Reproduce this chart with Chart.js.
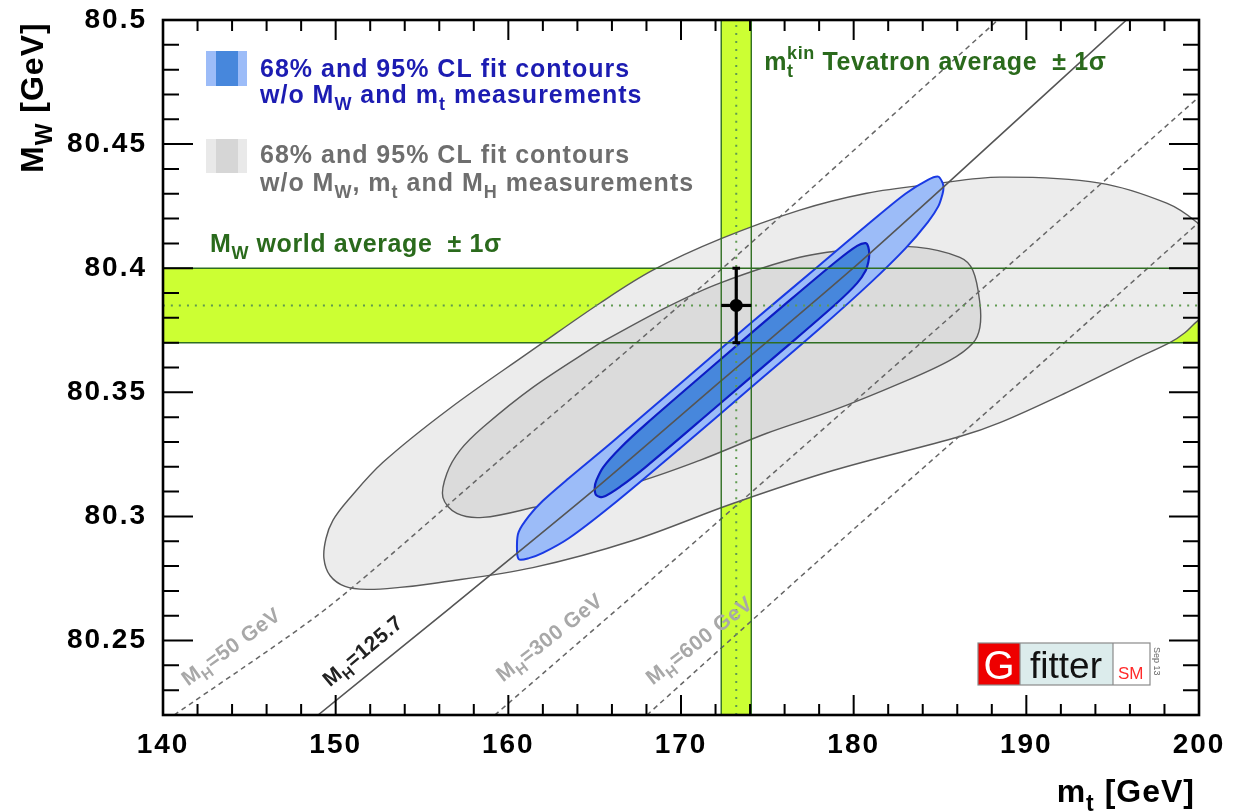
<!DOCTYPE html>
<html><head><meta charset="utf-8">
<script src="https://cdn.jsdelivr.net/npm/chart.js@4.4.1/dist/chart.umd.min.js"></script>
<style>html,body{margin:0;padding:0;background:#fff;}canvas{display:block;}</style>
</head><body>
<canvas id="c" width="1241" height="812"></canvas>
<script>
// ---------------- data ----------------
const xMajorTicks = [140, 150, 160, 170, 180, 190, 200];
const yMajorTicks = [80.25, 80.3, 80.35, 80.4, 80.45, 80.5];

// measurements
const mwAvg = 80.385, mwErr = 0.015;     // M_W world average
const mtAvg = 173.2,  mtErr = 0.87;      // m_t Tevatron average

// grey 95% contour (w/o MW, mt, MH)
const grey95Mt = [161.42,165.30,168.37,172.25,176.88,180.76,184.59,188.47,194.26,198.13,199.87,201.2,201.9,201.3,199.87,199.18,198.31,196.17,192.35,188.47,186.15,178.80,173.00,167.21,161.42,155.63,153.72,151.81,150.54,149.67,149.32,149.44,149.84,150.71,152.74,156.62];
const grey95Mw = [80.3672,80.3859,80.3992,80.4117,80.4234,80.4302,80.4339,80.4367,80.4343,80.4262,80.4185,80.4085,80.3965,80.3855,80.3785,80.3740,80.3700,80.3630,80.3500,80.3378,80.3322,80.3185,80.3052,80.2903,80.2794,80.2730,80.2714,80.2706,80.2718,80.2762,80.2831,80.2911,80.2984,80.3065,80.3218,80.3436];
// grey 68% contour
const grey68Mt = [165.30,169.18,172.25,176.88,180.76,183.66,186.15,186.90,187.31,187.31,186.90,185.57,182.68,178.80,174.97,171.09,167.21,161.42,158.53,157.02,156.21,156.44,157.20,158.53,161.42];
const grey68Mw = [80.3698,80.3843,80.3940,80.4044,80.4081,80.4085,80.4044,80.3992,80.3859,80.3762,80.3698,80.3629,80.3536,80.3427,80.3335,80.3226,80.3133,80.3036,80.2996,80.3012,80.3077,80.3173,80.3266,80.3359,80.3520];
// blue 95% contour (w/o MW and mt)
const blue95Mt = [170,174,178,181,183,184.3,184.9,185.15,185.2,185.15,184.9,184.3,183,181,178,174,170,166,163.5,162.0,161.2,160.6,160.5,160.6,161.2,162.0,163.5,166];
const blue95Mw = [80.3538,80.3776,80.4011,80.4187,80.4300,80.4356,80.4369,80.4344,80.4324,80.4300,80.4249,80.4186,80.4080,80.3943,80.3755,80.3516,80.3278,80.3045,80.2912,80.2853,80.2832,80.2828,80.2883,80.2938,80.3002,80.3063,80.3154,80.3299];
// blue 68% contour
const blue68Mt = [172,176,179,180.2,180.7,180.85,180.9,180.85,180.7,180.2,179,176,172,168,166.5,165.5,165.1,165.0,165.1,165.5,166.5,168];
const blue68Mw = [80.3615,80.3853,80.4028,80.4090,80.4101,80.4085,80.4055,80.4025,80.3991,80.3940,80.3858,80.3677,80.3439,80.3202,80.3121,80.3079,80.3085,80.3115,80.3145,80.3199,80.3277,80.3374];

// SM prediction lines for fixed M_H
const mh50Mt   = [140.65,149.54,159.51,172.08,179.37,188.29];
const mh50Mw   = [80.2200,80.2633,80.3228,80.3980,80.4435,80.4996];
const mh125Mt  = [148.98,156.6,165.1,172.3,179.8,185.4,195.8];
const mh125Mw  = [80.2200,80.2630,80.3115,80.3545,80.3990,80.4340,80.5000];
const mh300Mt  = [159.22,171.09,188.47,200.0];
const mh300Mw  = [80.2200,80.2915,80.3980,80.4690];
const mh600Mt  = [168.03,179.20,188.47,200.0];
const mh600Mw  = [80.2200,80.2899,80.3468,80.4185];

// ---------------- helpers ----------------
const FONT = '"Liberation Sans", Arial, Helvetica, sans-serif';
const LIME = '#ccff33';
const pts = (xs, ys) => xs.map((x, i) => ({x: x, y: ys[i]}));
const closed = (xs, ys) => { const p = pts(xs, ys); p.push(p[0]); return p; };

function shape(data, fillC, lineC, lw, order, tension) {
  return {data, showLine: true, fill: 'shape', backgroundColor: fillC, borderColor: lineC,
    borderWidth: lw, pointRadius: 0, tension: tension, order, clip: 0};
}
function lineDs(data, color, lw, dash, order) {
  return {data, showLine: true, fill: false, borderColor: color, borderWidth: lw,
    borderDash: dash || [], pointRadius: 0, tension: 0.25, order, clip: 0, borderCapStyle: 'butt'};
}

const xMin = 140, xMax = 200, yMin = 80.22, yMax = 80.5;
const hBand = [{x:xMin,y:mwAvg-mwErr},{x:xMax,y:mwAvg-mwErr},{x:xMax,y:mwAvg+mwErr},{x:xMin,y:mwAvg+mwErr},{x:xMin,y:mwAvg-mwErr}];
const vBand = [{x:mtAvg-mtErr,y:yMin},{x:mtAvg+mtErr,y:yMin},{x:mtAvg+mtErr,y:yMax},{x:mtAvg-mtErr,y:yMax},{x:mtAvg-mtErr,y:yMin}];

const GREEN = '#2f6e22', GREEN_DOT = '#5f9a50';

const datasets = [
  shape(hBand, LIME, 'rgba(0,0,0,0)', 0, 100, 0),
  shape(vBand, LIME, 'rgba(0,0,0,0)', 0, 99, 0),
  shape(closed(grey95Mt, grey95Mw), '#ececec', '#5a5a5a', 1.4, 90, 0.35),
  shape(closed(grey68Mt, grey68Mw), '#dbdbdb', '#5a5a5a', 1.4, 80, 0.35),
  shape(closed(blue95Mt, blue95Mw), '#9cbcf8', '#1a3ae4', 2, 70, 0.3),
  shape(closed(blue68Mt, blue68Mw), '#4787dc', '#0c1cc4', 2.2, 60, 0.3),
  lineDs(pts(mh50Mt, mh50Mw), '#666', 1.5, [5,4], 50),
  lineDs(pts(mh125Mt, mh125Mw), '#555', 1.6, [], 50),
  lineDs(pts(mh300Mt, mh300Mw), '#666', 1.5, [5,4], 50),
  lineDs(pts(mh600Mt, mh600Mw), '#666', 1.5, [5,4], 50),
  // band borders and central values
  lineDs([{x:xMin,y:mwAvg-mwErr},{x:xMax,y:mwAvg-mwErr}], GREEN, 1.4, [], 40),
  lineDs([{x:xMin,y:mwAvg+mwErr},{x:xMax,y:mwAvg+mwErr}], GREEN, 1.4, [], 40),
  lineDs([{x:xMin,y:mwAvg},{x:xMax,y:mwAvg}], GREEN_DOT, 2, [2,6], 40),
  lineDs([{x:mtAvg-mtErr,y:yMin},{x:mtAvg-mtErr,y:yMax}], GREEN, 1.4, [], 40),
  lineDs([{x:mtAvg+mtErr,y:yMin},{x:mtAvg+mtErr,y:yMax}], GREEN, 1.4, [], 40),
  lineDs([{x:mtAvg,y:yMin},{x:mtAvg,y:yMax}], GREEN_DOT, 2, [2,6], 40),
  // measurement point with error bars
  lineDs([{x:mtAvg,y:mwAvg-mwErr},{x:mtAvg,y:mwAvg+mwErr}], '#000', 3.2, [], 20),
  lineDs([{x:mtAvg-mtErr,y:mwAvg},{x:mtAvg+mtErr,y:mwAvg}], '#000', 3.2, [], 20),
  lineDs([{x:mtAvg-0.22,y:mwAvg+mwErr},{x:mtAvg+0.22,y:mwAvg+mwErr}], '#000', 3, [], 20),
  lineDs([{x:mtAvg-0.22,y:mwAvg-mwErr},{x:mtAvg+0.22,y:mwAvg-mwErr}], '#000', 3, [], 20),
  {data:[{x:mtAvg,y:mwAvg}], showLine:false, pointRadius:6.5, pointBackgroundColor:'#000', pointBorderColor:'#000', pointBorderWidth:0, order:10, clip:false}
];

// rich text with sub/superscripts
function rich(ctx, x, y, segs, size, color, spacing, measureOnly) {
  let cx = x;
  ctx.fillStyle = color; ctx.textAlign = 'left'; ctx.textBaseline = 'alphabetic';
  ctx.letterSpacing = (spacing || 0) + 'px';
  for (const s of segs) {
    const kind = s[1] || '';
    if (kind === 'supsub') {
      ctx.font = 'bold ' + (size*0.72) + 'px ' + FONT;
      const w1 = ctx.measureText(s[0]).width, w2 = ctx.measureText(s[2]).width;
      if (!measureOnly) { ctx.fillText(s[0], cx, y - size*0.45); ctx.fillText(s[2], cx, y + size*0.28); }
      cx += Math.max(w1, w2);
      continue;
    }
    const sz = kind ? size*0.72 : size;
    ctx.font = 'bold ' + sz + 'px ' + FONT;
    const dy = kind === 'sub' ? size*0.28 : (kind === 'sup' ? -size*0.45 : 0);
    if (!measureOnly) ctx.fillText(s[0], cx, y + dy);
    cx += ctx.measureText(s[0]).width;
  }
  return cx - x;
}

const mhLabels = [
  {mt:141.45, mw:80.2315, ang:36, color:'#a8a8a8', segs:[['M'],['H','sub'],['=50 GeV']]},
  {mt:149.67, mw:80.2311, ang:40, color:'#222222', segs:[['M'],['H','sub'],['=125.7']]},
  {mt:159.69, mw:80.2331, ang:38, color:'#a8a8a8', segs:[['M'],['H','sub'],['=300 GeV']]},
  {mt:168.37, mw:80.2319, ang:38, color:'#a8a8a8', segs:[['M'],['H','sub'],['=600 GeV']]}
];

const spacingPlugin = {
  id: 'spacing',
  beforeDraw(chart) { chart.ctx.letterSpacing = '2px'; },
  beforeDatasetsDraw(chart) { chart.ctx.letterSpacing = '0px'; }
};

const framePlugin = {
  id: 'frame',
  afterDatasetsDraw(chart) {
    const {ctx, chartArea: a, scales: {x, y}} = chart;
    ctx.save();
    ctx.letterSpacing = '0px';
    ctx.strokeStyle = '#000'; ctx.lineWidth = 2;
    ctx.beginPath();
    for (let k = 0; k <= 30; k++) {
      const v = 140 + 2*k; const px = x.getPixelForValue(v);
      const L = (k % 5 === 0) ? 20 : 11;
      ctx.moveTo(px, a.bottom); ctx.lineTo(px, a.bottom - L);
      ctx.moveTo(px, a.top); ctx.lineTo(px, a.top + L);
    }
    for (let k = 22; k <= 50; k++) {
      const v = 80 + k/100; const py = y.getPixelForValue(v);
      const L = (k % 5 === 0) ? 30 : 16;
      ctx.moveTo(a.left, py); ctx.lineTo(a.left + L, py);
      ctx.moveTo(a.right, py); ctx.lineTo(a.right - L, py);
    }
    ctx.stroke();
    ctx.lineWidth = 2.6;
    ctx.strokeRect(a.left, a.top, a.right - a.left, a.bottom - a.top);
    ctx.restore();
  }
};

const textPlugin = {
  id: 'texts',
  afterDraw(chart) {
    const {ctx, chartArea: a, scales: {x, y}} = chart;
    ctx.save();
    // legend icons
    const lx = a.left + 43, lw = 41;
    ctx.fillStyle = '#9cbcf8'; ctx.fillRect(lx, 51, lw, 35);
    ctx.fillStyle = '#4787dc'; ctx.fillRect(lx + 10, 51, 22, 35);
    ctx.fillStyle = '#e9e9e9'; ctx.fillRect(lx, 139, lw, 34);
    ctx.fillStyle = '#d6d6d6'; ctx.fillRect(lx + 10, 139, 22, 34);
    const tx = a.left + 97;
    const BLUE = '#1c1cb2', GREYT = '#6e6e6e', GT = '#2a6a1c';
    rich(ctx, tx, 77, [['68% and 95% CL fit contours']], 25, BLUE, 1);
    rich(ctx, tx, 103, [['w/o M'],['W','sub'],[' and m'],['t','sub'],[' measurements']], 25, BLUE, 1);
    rich(ctx, tx, 163, [['68% and 95% CL fit contours']], 25, GREYT, 1);
    rich(ctx, tx, 191, [['w/o M'],['W','sub'],[', m'],['t','sub'],[' and M'],['H','sub'],[' measurements']], 25, GREYT, 1);
    rich(ctx, a.left + 47, 252, [['M'],['W','sub'],[' world average  \u00b1 1\u03c3']], 25, GT, 0.6);
    rich(ctx, x.getPixelForValue(mtAvg + mtErr) + 13, 70, [['m'],['kin','supsub','t'],[' Tevatron average  \u00b1 1\u03c3']], 25, GT, 0.6);

    // M_H labels
    for (const L of mhLabels) {
      ctx.save();
      ctx.translate(x.getPixelForValue(L.mt), y.getPixelForValue(L.mw));
      ctx.rotate(-L.ang * Math.PI / 180);
      rich(ctx, 0, 0, L.segs, 21, L.color, 0.5);
      ctx.restore();
    }

    // axis titles
    ctx.save();
    ctx.translate(43, 173); ctx.rotate(-Math.PI/2);
    rich(ctx, 0, 0, [['M'],['W','sub'],[' [GeV]']], 32, '#000', 1);
    ctx.restore();
    const xt = [['m'],['t','sub'],[' [GeV]']];
    const w = rich(ctx, 0, 0, xt, 32, '#000', 1, true);
    rich(ctx, a.right - 4 - w, 802, xt, 32, '#000', 1);

    // Gfitter logo
    ctx.letterSpacing = '0px';
    const gx = a.right - 221, gy = a.bottom - 72, gh = 42;
    ctx.fillStyle = '#ee0000'; ctx.fillRect(gx, gy, 42, gh);
    ctx.fillStyle = '#dcecec'; ctx.fillRect(gx + 42, gy, 93, gh);
    ctx.fillStyle = '#ffffff'; ctx.fillRect(gx + 135, gy, 37, gh);
    ctx.strokeStyle = '#8a8a8a'; ctx.lineWidth = 1.2;
    ctx.strokeRect(gx, gy, 172, gh);
    ctx.beginPath(); ctx.moveTo(gx + 42, gy); ctx.lineTo(gx + 42, gy + gh);
    ctx.moveTo(gx + 135, gy); ctx.lineTo(gx + 135, gy + gh); ctx.stroke();
    ctx.textBaseline = 'alphabetic'; ctx.textAlign = 'center';
    ctx.fillStyle = '#fff'; ctx.font = '40px ' + FONT; ctx.fillText('G', gx + 21, gy + 36);
    ctx.textAlign = 'left';
    ctx.fillStyle = '#111'; ctx.font = '37px ' + FONT; ctx.fillText('fitter', gx + 52, gy + 35);
    ctx.fillStyle = '#ff2a2a'; ctx.font = '17px ' + FONT; ctx.fillText('SM', gx + 140, gy + 36);
    ctx.save();
    ctx.translate(gx + 176, gy + 4); ctx.rotate(Math.PI/2);
    ctx.fillStyle = '#666'; ctx.font = '9px ' + FONT; ctx.fillText('Sep 13', 0, 0);
    ctx.restore();
    ctx.restore();
  }
};

new Chart(document.getElementById('c'), {
  type: 'scatter',
  data: {datasets},
  options: {
    responsive: false, animation: false, devicePixelRatio: 1, events: [],
    layout: {padding: {left: 0, right: 42, top: 20, bottom: 0}},
    elements: {line: {capBezierPoints: false}},
    plugins: {legend: {display: false}, tooltip: {enabled: false}},
    scales: {
      x: {
        type: 'linear', min: xMin, max: xMax,
        grid: {display: false}, border: {display: false},
        ticks: {color: '#000', font: {family: FONT, size: 28, weight: 'bold'}, padding: 5, maxRotation: 0, autoSkip: false,
          callback: v => String(v)},
        afterBuildTicks: ax => { ax.ticks = xMajorTicks.map(v => ({value: v})); },
        afterFit: s => { s.height = 97; s.paddingLeft = 0; s.paddingRight = 0; }
      },
      y: {
        type: 'linear', min: yMin, max: yMax,
        grid: {display: false}, border: {display: false},
        ticks: {color: '#000', font: {family: FONT, size: 28, weight: 'bold'}, padding: 8, autoSkip: false,
          callback: v => String(parseFloat(Number(v).toFixed(2)))},
        afterBuildTicks: ax => { ax.ticks = yMajorTicks.map(v => ({value: v})); },
        afterFit: s => { s.width = 163; s.paddingTop = 0; s.paddingBottom = 0; }
      }
    }
  },
  plugins: [spacingPlugin, framePlugin, textPlugin]
});
</script>
</body></html>
